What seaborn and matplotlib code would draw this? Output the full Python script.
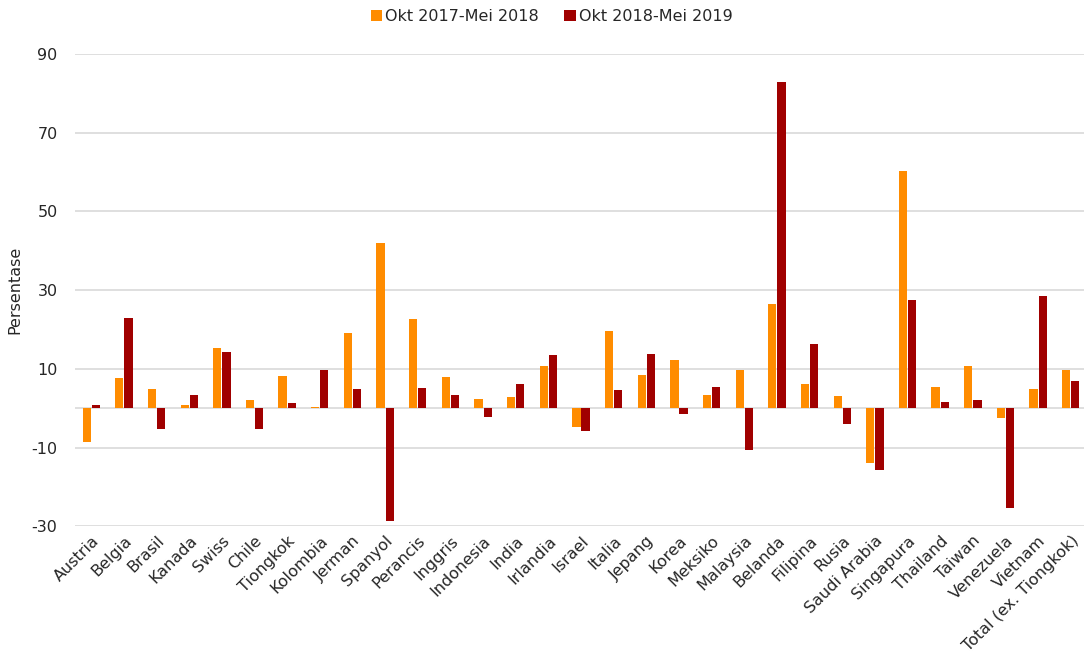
import matplotlib
matplotlib.use("Agg")
import matplotlib.pyplot as plt
import seaborn as sns
import pandas as pd

negara = ["Austria", "Belgia", "Brasil", "Kanada", "Swiss", "Chile", "Tiongkok", "Kolombia",
          "Jerman", "Spanyol", "Perancis", "Inggris", "Indonesia", "India", "Irlandia", "Israel",
          "Italia", "Jepang", "Korea", "Meksiko", "Malaysia", "Belanda", "Filipina", "Rusia",
          "Saudi Arabia", "Singapura", "Thailand", "Taiwan", "Venezuela", "Vietnam",
          "Total (ex. Tiongkok)"]
periode_1 = "Okt 2017-Mei 2018"
periode_2 = "Okt 2018-Mei 2019"
nilai_1 = [-8.5, 7.6, 4.8, 0.7, 15.3, 2.1, 8.2, 0.4, 19.2, 42.1, 22.6, 7.9, 2.3, 2.8, 10.8, -4.9,
           19.7, 8.4, 12.2, 3.3, 9.8, 26.6, 6.2, 3.0, -14.0, 60.4, 5.4, 10.6, -2.5, 4.8, 9.6]
nilai_2 = [0.9, 22.8, -5.2, 3.3, 14.2, -5.4, 1.4, 9.6, 4.8, -28.7, 5.2, 3.4, -2.3, 6.2, 13.4, -5.8,
           4.5, 13.9, -1.5, 5.4, -10.7, 82.9, 16.3, -4.1, -15.7, 27.5, 1.6, 2.1, -25.4, 28.4, 7.0]
y_ticks = [-30, -10, 10, 30, 50, 70, 90]

df = pd.DataFrame({
    "negara": negara * 2,
    "nilai": nilai_1 + nilai_2,
    "periode": [periode_1] * len(negara) + [periode_2] * len(negara),
})

sns.set_theme(style="white")
plt.rcParams["font.family"] = ["DejaVu Sans"]
plt.rcParams["axes.unicode_minus"] = False

fig = plt.figure(figsize=(10.86, 6.67), dpi=100)
ax = fig.add_axes([0.069, 0.211, 0.929, 0.708])

sns.barplot(data=df, x="negara", y="nilai", hue="periode",
            palette=["#FF8C00", "#A00000"], saturation=1, width=0.56, gap=0.1,
            edgecolor="none", ax=ax, legend=True)

ax.set_ylim(-30, 90)
ax.set_yticks(y_ticks)
ax.set_xlim(-0.5, len(negara) - 0.6)
ax.yaxis.grid(True, color="#d9d9d9", linewidth=1.2)
ax.set_axisbelow(True)
ax.axhline(0, color="#d9d9d9", linewidth=1.2, zorder=0)
for s in ax.spines.values():
    s.set_visible(False)
ax.tick_params(axis="both", length=0, labelsize=11.5, colors="#262626")
ax.tick_params(axis="y", pad=12.5)
ax.tick_params(axis="x", pad=5)
plt.setp(ax.get_xticklabels(), rotation=45, ha="right", rotation_mode="anchor")
ax.set_xlabel("")
ax.set_ylabel("Persentase", fontsize=11.5, color="#262626")
ax.yaxis.set_label_coords(-0.052, 0.5)

h, l = ax.get_legend_handles_labels()
ax.legend(h, l, loc="center", bbox_to_anchor=(0.508, 0.975), bbox_transform=fig.transFigure,
          ncol=2, frameon=False, fontsize=11.5, handlelength=0.7, handleheight=0.7,
          handletextpad=0.2, columnspacing=1.6)

fig.savefig("out.png", dpi=100)
